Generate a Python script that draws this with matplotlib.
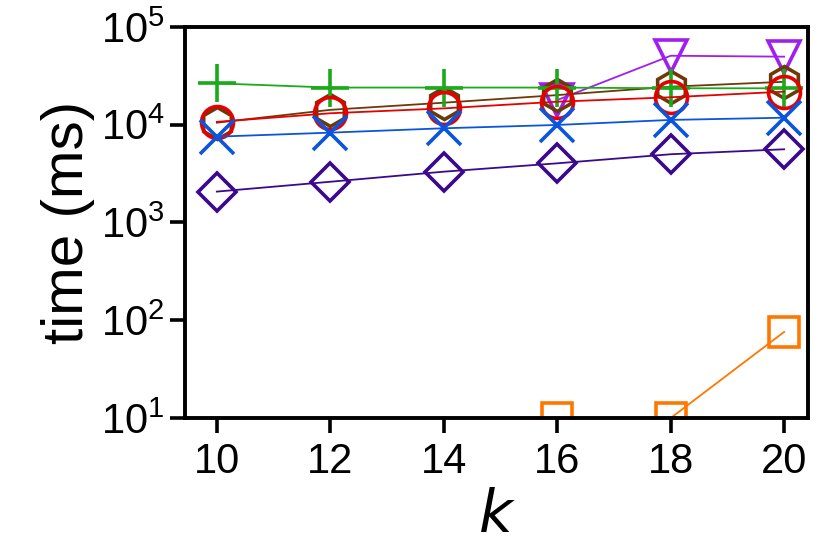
import matplotlib
matplotlib.use("Agg")
import matplotlib.pyplot as plt
from matplotlib.ticker import FixedLocator, LogFormatterSciNotation

plt.rcParams['font.family'] = ['Liberation Sans', 'DejaVu Sans']
plt.rcParams['mathtext.default'] = 'regular'

k = [10, 12, 14, 16, 18, 20]
y_ticks = [1e1, 1e2, 1e3, 1e4, 1e5]

plus_green = [26500, 24000, 24000, 24000, 23600, 23600]
tri_purple = [None, None, None, 17900, 50800, 49700]
hex_brown = [10500, 14200, 16800, 20100, 24500, 27500]
circ_red = [10700, 13100, 14700, 17200, 19100, 21800]
x_blue = [7550, 8300, 9200, 9950, 11200, 11800]
dia_indigo = [2070, 2610, 3310, 4030, 4990, 5610]
sq_orange = [None, None, None, 10, 10, 76]

# drawing order: first in the list ends up at the bottom
series = [
    (sq_orange, 's', '#ff7700', 22),
    (tri_purple, 'v', '#a01ef0', 23),
    (hex_brown, 'h', '#6b3a08', 23),
    (plus_green, '+', '#1aaa1a', 27),
    (circ_red, 'o', '#e60000', 23),
    (x_blue, 'x', '#0a55e0', 25),
    (dia_indigo, 'D', '#3b0a8c', 19),
]

fig = plt.figure(figsize=(8.3, 5.54), dpi=100)
ax = fig.add_axes([0.223, 0.2455, 0.7505, 0.7058])

for vals, mk, col, ms in series:
    xs = [x for x, v in zip(k, vals) if v is not None]
    ys = [v for v in vals if v is not None]
    ax.plot(xs, ys, color=col, lw=1.3, marker=mk, markersize=ms,
            markerfacecolor='none', markeredgecolor=col, markeredgewidth=2.6)

ax.set_yscale('log')
ax.set_ylim(10, 1e5)
ax.yaxis.set_major_locator(FixedLocator(y_ticks))
ax.yaxis.set_major_formatter(LogFormatterSciNotation())
ax.set_xlim(9.44, 20.42)
ax.set_xticks(k)
ax.minorticks_off()
ax.tick_params(axis='both', which='major', labelsize=30, length=11, width=2.6,
               direction='out', top=False, right=False)
ax.tick_params(axis='x', pad=6)
for s in ax.spines.values():
    s.set_linewidth(2.8)

ax.set_xlabel('$\\mathit{k}$', fontsize=42, labelpad=6)
ax.set_ylabel('time (ms)', fontsize=42, labelpad=4)

fig.savefig('out.png', dpi=100)
plt.close(fig)
